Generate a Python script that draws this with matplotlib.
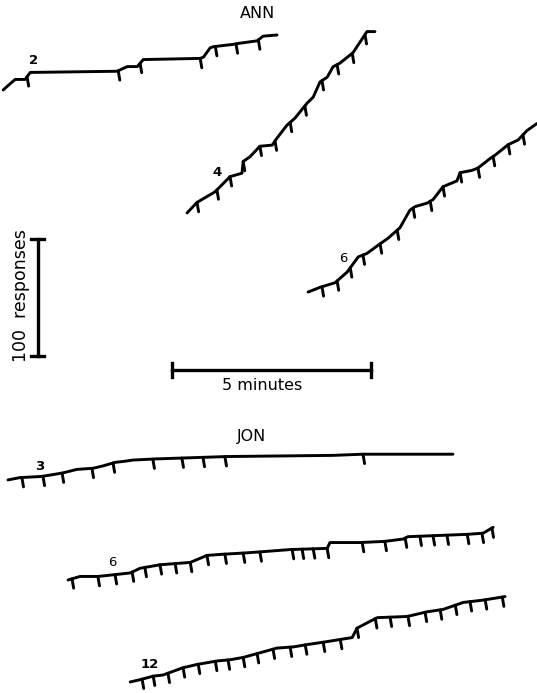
import numpy as np
import matplotlib.pyplot as plt

# cumulative records: time (min) and cumulative responses from each record's start,
# plus reinforcement times (pips)
ann2_t = [0, 0.13, 0.30, 0.55, 0.68, 2.86, 3.12, 3.37, 3.52, 4.95, 5.03, 5.20, 5.28, 5.78, 5.95, 6.38, 6.53, 6.88]
ann2_r = [0, 4, 9, 9, 15, 16, 20, 20, 26, 27, 28, 36, 37, 39, 40, 42, 46, 47]
ann2_sr = [0.60, 2.89, 3.44, 4.95, 5.33, 5.85, 6.41]

ann4_t = [0, 0.25, 0.70, 1.08, 1.38, 1.41, 1.58, 1.83, 2.14, 2.26, 2.51, 2.71, 3.02, 3.17, 3.34, 3.52, 3.67, 3.84, 4.17, 4.52, 4.72]
ann4_r = [0, 9, 18, 31, 34, 44, 48, 57, 58, 64, 75, 81, 94, 99, 112, 116, 125, 128, 137, 155, 155]
ann4_sr = [0.25, 0.75, 1.08, 1.41, 1.83, 2.21, 2.59, 2.96, 3.39, 3.77, 4.15, 4.47]

ann6_t = [0, 0.30, 0.68, 0.98, 1.26, 1.48, 1.76, 2.01, 2.31, 2.56, 2.69, 2.99, 3.14, 3.39, 3.74, 3.82,
          4.12, 4.27, 4.57, 4.70, 5.03, 5.28, 5.50, 5.75]
ann6_r = [0, 4, 8, 17, 30, 33, 40, 46, 55, 70, 73, 76, 79, 90, 95, 102, 104, 106, 114, 117, 126, 130, 138, 144]
ann6_sr = [0.35, 0.73, 1.06, 1.38, 1.81, 2.24, 2.64, 3.07, 3.39, 3.82, 4.27, 4.65, 5.03, 5.40]

jon3_t = [0, 0.30, 0.85, 1.38, 1.73, 2.14, 2.39, 2.69, 2.94, 3.14, 3.74, 5.50, 8.17, 8.92, 11.18]
jon3_r = [0, 2, 3, 6, 9, 10, 12, 15, 16, 17, 18, 20, 21, 22, 22]
jon3_sr = [0.35, 0.88, 1.36, 2.11, 2.64, 3.64, 4.37, 4.90, 5.45, 8.92]

jon6_t = [0, 0.30, 0.75, 1.56, 1.81, 2.31, 2.69, 3.07, 3.49, 3.89, 4.40, 4.82, 5.58, 6.51, 6.58,
          7.34, 7.96, 8.42, 8.54, 10.03, 10.43, 10.68]
jon6_r = [0, 3, 3, 6, 10, 13, 14, 15, 21, 22, 23, 24, 26, 27, 32, 32, 33, 35, 37, 39, 40, 45]
jon6_sr = [0.10, 0.75, 1.18, 1.61, 1.93, 2.31, 2.69, 3.07, 3.49, 3.94, 4.40, 4.82, 5.63, 5.88, 6.16,
           6.51, 7.39, 7.96, 8.47, 8.84, 9.17, 9.52, 10.03, 10.40, 10.65]

jon12_t = [0, 0.25, 0.58, 0.83, 1.31, 1.68, 2.19, 2.51, 2.84, 3.69, 4.10, 4.45, 4.85, 5.58, 5.70,
           5.98, 6.21, 6.96, 7.46, 7.86, 8.37, 8.87, 9.42]
jon12_r = [0, 2, 5, 6, 12, 15, 18, 19, 21, 29, 30, 32, 34, 38, 46, 51, 55, 56, 60, 62, 68, 70, 73]
jon12_sr = [0.30, 0.58, 0.95, 1.33, 1.71, 2.14, 2.46, 2.84, 3.19, 3.59, 4.02, 4.40, 4.85, 5.28, 5.70,
            6.16, 6.53, 6.98, 7.41, 7.79, 8.17, 8.54, 8.92, 9.35]

records = [
    # (t, r, pips, start offset on the sheet (min, resp), label, label pos in px, bold)
    (ann2_t, ann2_r, ann2_sr, (0.08, 515.4), "2", (34, 61), True),
    (ann4_t, ann4_r, ann4_sr, (4.70, 410.3), "4", (217, 173), True),
    (ann6_t, ann6_r, ann6_sr, (7.74, 342.7), "6", (343, 258), False),
    (jon3_t, jon3_r, jon3_sr, (0.20, 182.1), "3", (40, 466), True),
    (jon6_t, jon6_r, jon6_sr, (1.71, 96.6), "6", (112, 563), False),
    (jon12_t, jon12_r, jon12_sr, (3.27, 9.4), "12", (150, 665), True),
]

W, H = 537, 693
fig = plt.figure(figsize=(W / 100, H / 100), dpi=100)
ax = fig.add_axes([0, 0, 1, 1])
px_min = 39.8   # pixels per minute
px_resp = 1.17  # pixels per response
ax.set_xlim(0, W / px_min)
ax.set_ylim(0, H / px_resp)
ax.axis("off")

lw = 2.1
for t, r, sr, (x0, y0), lab, (lx, ly), bold in records:
    t = np.array(t) + x0
    r = np.array(r) + y0
    ax.plot(t, r, color="black", lw=lw, solid_capstyle="round", solid_joinstyle="round")
    for s in sr:
        ts = s + x0
        rs = np.interp(ts, t, r)
        ax.plot([ts, ts + 0.04], [rs, rs - 8], color="black", lw=lw, solid_capstyle="round")
    fig.text(lx / W, 1 - ly / H, lab, ha="center", va="center", fontsize=9.5,
             fontweight="bold" if bold else "normal", family="DejaVu Sans")

# scale bars
bar_x = 0.95
bar_y0 = 288
ax.plot([bar_x, bar_x], [bar_y0, bar_y0 + 100], color="black", lw=2.4)
for yy in [bar_y0, bar_y0 + 100]:
    ax.plot([bar_x - 0.16, bar_x + 0.16], [yy, yy], color="black", lw=2.4)

hb_y = 276
hb_x0 = 4.32
ax.plot([hb_x0, hb_x0 + 5], [hb_y, hb_y], color="black", lw=2.4)
for xx in [hb_x0, hb_x0 + 5]:
    ax.plot([xx, xx], [hb_y - 6, hb_y + 6], color="black", lw=2.4)

font = dict(family="DejaVu Sans", fontsize=11.5)
fig.text(257 / W, 1 - 13 / H, "ANN", ha="center", va="center", **font)
fig.text(251 / W, 1 - 436 / H, "JON", ha="center", va="center", **font)
fig.text(262 / W, 1 - 385 / H, "5 minutes", ha="center", va="center", **font)
fig.text(21 / W, 1 - 296 / H, "100  responses", ha="center", va="center", rotation=90,
         family="DejaVu Sans", fontsize=12.5)

fig.savefig("out.png", dpi=100)
